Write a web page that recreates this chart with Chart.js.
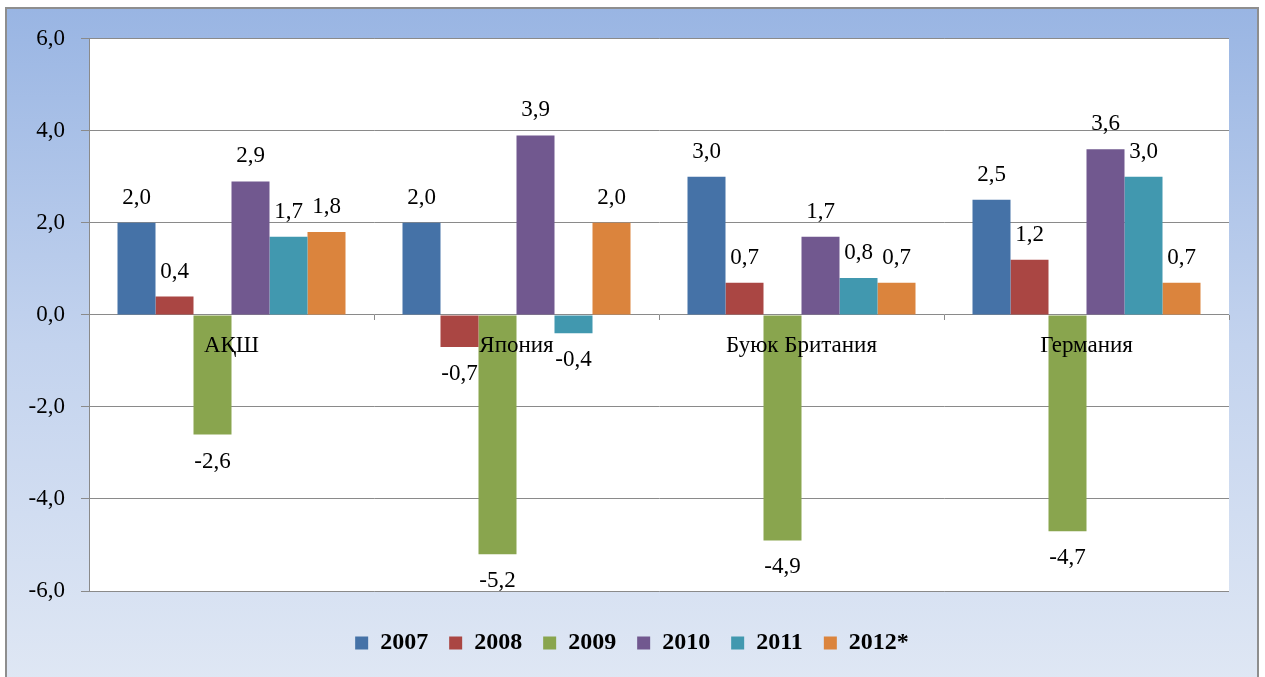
<!DOCTYPE html>
<html>
<head>
<meta charset="utf-8">
<script src="https://cdn.jsdelivr.net/npm/chart.js@4.4.0/dist/chart.umd.min.js"></script>
<style>
    html, body { margin: 0; padding: 0; background: #ffffff; }
    /* 차트 외곽 프레임 (회색 테두리 + 파란 그라데이션) */
    #frame {
        position: absolute;
        left: 5px;
        top: 7px;
        width: 1250px;
        height: 672px;
        border: 2px solid #8e8e8e;
        border-bottom: none;
        background: linear-gradient(to bottom, #99b5e3 0%, #c3d3ee 50%, #dfe7f4 100%);
    }
    #chart { display: block; }
</style>
</head>
<body>
<div id="frame">
    <canvas id="chart" width="1250" height="668"></canvas>
</div>
<script>
// ==============================================
// 데이터 (카테고리 / 연도별 값)
// ==============================================
const categories = ["АҚШ", "Япония", "Буюк Британия", "Германия"];
const years = ["2007", "2008", "2009", "2010", "2011", "2012*"];

const v2007 = [2.0, 2.0, 3.0, 2.5];
const v2008 = [0.4, -0.7, 0.7, 1.2];
const v2009 = [-2.6, -5.2, -4.9, -4.7];
const v2010 = [2.9, 3.9, 1.7, 3.6];
const v2011 = [1.7, -0.4, 0.8, 3.0];
const v2012 = [1.8, 2.0, 0.7, 0.7];

const seriesValues = [v2007, v2008, v2009, v2010, v2011, v2012];

// 엑셀 기본 팔레트
const colorList = ["#4572a7", "#aa4643", "#89a54e", "#71588f", "#4198af", "#db843d"];

const serif = "'Liberation Serif', 'Times New Roman', serif";

// 숫자 -> "2,0" 형식
function fmt(v) {
    return v.toFixed(1).replace(".", ",");
}

// 데이터셋 생성
const datasets = [];
for (let i = 0; i < years.length; i++) {
    datasets.push({
        label: years[i],
        data: seriesValues[i],
        backgroundColor: colorList[i],
        borderWidth: 0,
        categoryPercentage: 0.8,
        barPercentage: 1.0
    });
}

// 플롯 영역 흰색 배경
const plotBackground = {
    id: "plotBackground",
    beforeDraw(chart) {
        const a = chart.chartArea;
        const ctx = chart.ctx;
        ctx.save();
        ctx.fillStyle = "#ffffff";
        ctx.fillRect(a.left, a.top, a.right - a.left, a.bottom - a.top);
        ctx.restore();
    }
};

// ==============================================
// 막대 끝에 값 표시 (양수: 위, 음수: 아래)
// ==============================================
const valueLabels = {
    id: "valueLabels",
    afterDatasetsDraw(chart) {
        const ctx = chart.ctx;
        ctx.save();
        ctx.font = "23px " + serif;
        ctx.fillStyle = "#000000";
        ctx.textAlign = "center";
        ctx.textBaseline = "middle";
        chart.data.datasets.forEach((ds, di) => {
            const meta = chart.getDatasetMeta(di);
            meta.data.forEach((bar, j) => {
                const v = ds.data[j];
                const y = v >= 0 ? bar.y - 25 : bar.y + 27;
                ctx.fillText(fmt(v), bar.x, y);
            });
        });
        ctx.restore();
    }
};

new Chart(document.getElementById("chart"), {
    type: "bar",
    data: {
        labels: categories,
        datasets: datasets
    },
    options: {
        responsive: false,
        animation: false,
        layout: {
            padding: { top: 29, right: 0, bottom: 12, left: 0 }
        },
        plugins: {
            tooltip: { enabled: false },
            legend: {
                position: "bottom",
                title: { display: true, text: " ", font: { size: 10 }, padding: { top: 4, bottom: 3 } },
                labels: {
                    boxWidth: 13,
                    boxHeight: 13,
                    padding: 21,
                    color: "#000000",
                    font: { family: serif, size: 24, weight: "bold" }
                }
            }
        },
        scales: {
            x: {
                position: { y: 0 },       // 0 라인에 카테고리 축 배치
                offset: true,
                grid: {
                    offset: true,
                    drawOnChartArea: false,
                    drawTicks: true,
                    tickLength: 5,
                    color: "#8a8a8a"
                },
                border: { display: false },
                ticks: {
                    z: 1,                 // 막대 위에 라벨 표시
                    color: "#000000",
                    padding: 12,
                    font: { family: serif, size: 23 }
                }
            },
            y: {
                min: -6,
                max: 6,
                afterFit: function (scale) { scale.width = 82; },
                grid: {
                    color: "#8a8a8a",
                    tickLength: 8
                },
                border: { display: true, color: "#8a8a8a" },
                ticks: {
                    stepSize: 2,
                    padding: 16,
                    color: "#000000",
                    font: { family: serif, size: 23 },
                    callback: function (value) { return fmt(value); }
                }
            },
            // 오른쪽 여백용 빈 축
            yRight: {
                position: "right",
                min: -6,
                max: 6,
                afterFit: function (scale) { scale.width = 28; },
                grid: { display: false },
                border: { display: false },
                ticks: { display: false }
            }
        }
    },
    plugins: [plotBackground, valueLabels]
});
</script>
</body>
</html>
